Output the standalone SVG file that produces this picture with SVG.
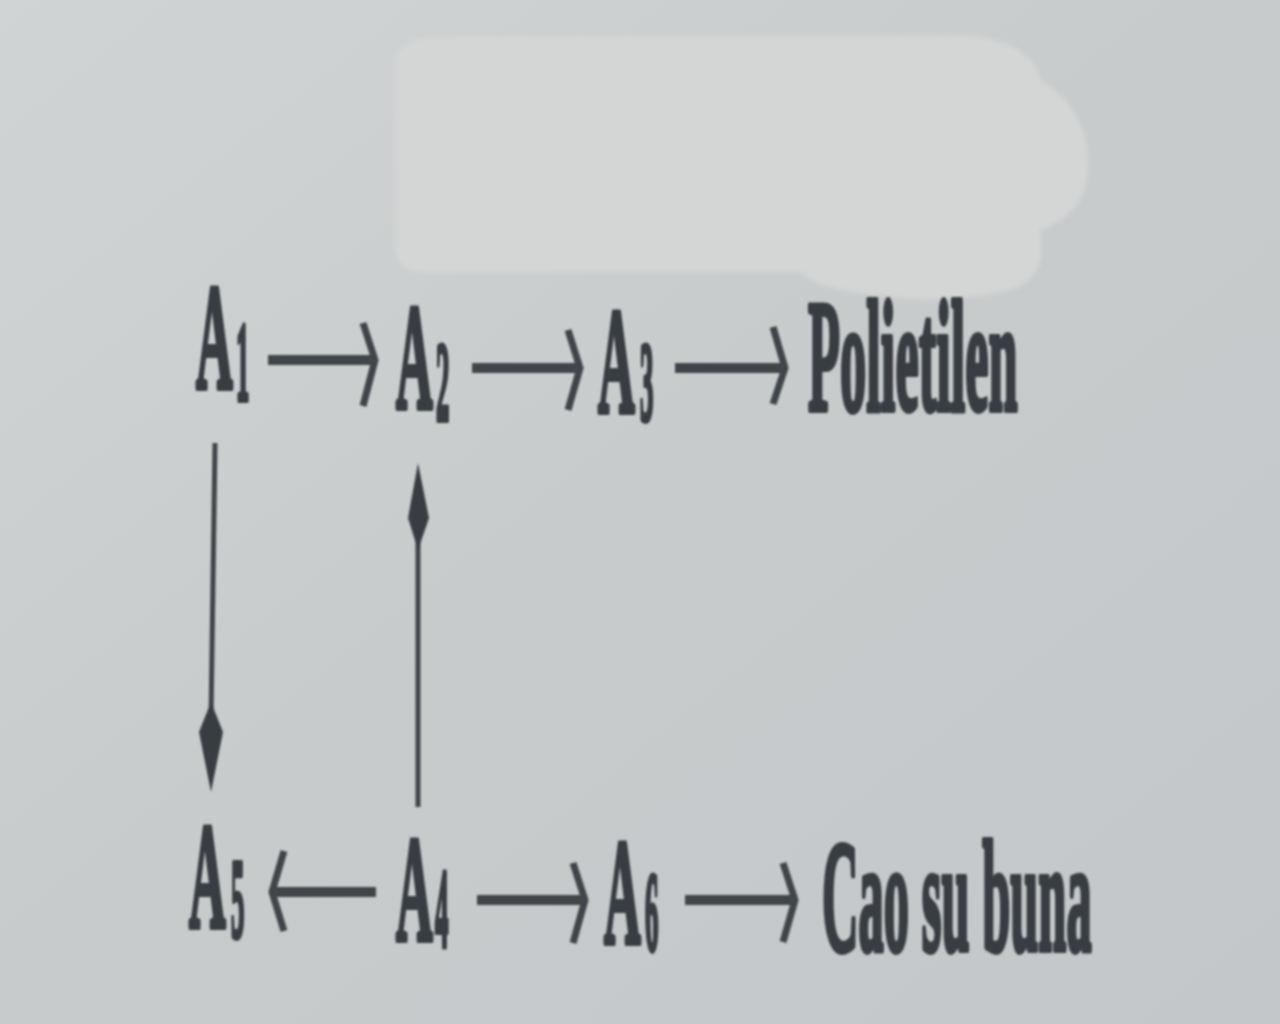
<svg xmlns="http://www.w3.org/2000/svg" width="1280" height="1024" viewBox="0 0 1280 1024">
  <defs>
    <linearGradient id="bg" x1="0" y1="0" x2="1" y2="1">
      <stop offset="0" stop-color="#d1d4d5"/>
      <stop offset="0.5" stop-color="#c8cbcc"/>
      <stop offset="1" stop-color="#c3c7c9"/>
    </linearGradient>
    <filter id="soft" x="-10%" y="-10%" width="120%" height="120%">
      <feGaussianBlur stdDeviation="1.3"/>
    </filter>
    <filter id="blobsoft">
      <feGaussianBlur stdDeviation="2"/>
    </filter>
    <style>
      .t { font-family: "Liberation Serif", "Times New Roman", serif; font-weight: bold; fill: #393c43; stroke: #393c43; stroke-width: 6; stroke-linejoin: round; }
      .big { font-size: 150px; }
      .sub { font-size: 112px; }
      .lbl { font-size: 158px; }
      .ln { stroke: #414449; fill: none; stroke-linecap: butt; }
      .h { stroke-width: 10; }
      .hd { stroke-width: 7; stroke-linejoin: miter; }
      .v { stroke-width: 5; }
      .fh { fill: #393c43; stroke: none; }
    </style>
  </defs>

  <rect x="0" y="0" width="1280" height="1024" fill="url(#bg)"/>

  <!-- light patch at top -->
  <g id="patch" fill="#d4d6d6" filter="url(#blobsoft)">
    <path d="M395 60 Q398 40 430 38 L960 36 Q1030 38 1040 80 Q1090 110 1088 170 Q1085 215 1040 230 Q1050 285 1000 292 Q940 305 880 295 Q820 290 800 272 L420 272 Q395 270 395 245 Z"/>
  </g>

  <g id="connectors" filter="url(#soft)">
    <!-- A1 -> A2 -->
    <line class="ln h" x1="268" y1="360" x2="371" y2="360"/>
    <polyline class="ln hd" points="363,323 375,360 363,406"/>
    <!-- A2 -> A3 -->
    <line class="ln h" x1="472" y1="368" x2="576" y2="368"/>
    <polyline class="ln hd" points="568,330 580,368 568,410"/>
    <!-- A3 -> Polietilen -->
    <line class="ln h" x1="675" y1="368" x2="781" y2="368"/>
    <polyline class="ln hd" points="773,327 785,368 773,404"/>
    <!-- A4 -> A5 -->
    <line class="ln h" x1="276" y1="892" x2="376" y2="892"/>
    <polyline class="ln hd" points="284,851 272,892 284,931"/>
    <!-- A4 -> A6 -->
    <line class="ln h" x1="477" y1="900" x2="581" y2="900"/>
    <polyline class="ln hd" points="573,863 585,900 573,943"/>
    <!-- A6 -> Cao su buna -->
    <line class="ln h" x1="685" y1="900" x2="791" y2="900"/>
    <polyline class="ln hd" points="783,863 795,900 783,942"/>
    <!-- A1 -> A5 (down) -->
    <line class="ln v" x1="215" y1="443" x2="211" y2="720"/>
    <polygon class="fh" points="211,702 223,732 211,792 199,732"/>
    <!-- A4 -> A2 (up) -->
    <line class="ln v" x1="418" y1="535" x2="418" y2="807"/>
    <polygon class="fh" points="418,463 429,518 418,550 408,518"/>
  </g>

  <g id="A1" filter="url(#soft)">
    <text class="t big" transform="translate(196,388) scale(0.34,1)">A</text>
    <text class="t sub" transform="translate(236,400) scale(0.24,1)">1</text>
  </g>
  <g id="A2" filter="url(#soft)">
    <text class="t big" transform="translate(396,408) scale(0.34,1)">A</text>
    <text class="t sub" transform="translate(436,420) scale(0.24,1)">2</text>
  </g>
  <g id="A3" filter="url(#soft)">
    <text class="t big" transform="translate(598,412) scale(0.34,1)">A</text>
    <text class="t sub" transform="translate(640,420) scale(0.24,1)">3</text>
  </g>
  <g id="Polietilen" filter="url(#soft)">
    <text class="t lbl" transform="translate(808,410) scale(0.332,1)">Polietilen</text>
  </g>
  <g id="A5" filter="url(#soft)">
    <text class="t big" transform="translate(189,927) scale(0.34,1)">A</text>
    <text class="t sub" transform="translate(231,937) scale(0.24,1)">5</text>
  </g>
  <g id="A4" filter="url(#soft)">
    <text class="t big" transform="translate(396,940) scale(0.34,1)">A</text>
    <text class="t sub" transform="translate(435,947) scale(0.24,1)">4</text>
  </g>
  <g id="A6" filter="url(#soft)">
    <text class="t big" transform="translate(604,943) scale(0.34,1)">A</text>
    <text class="t sub" transform="translate(645,950) scale(0.24,1)">6</text>
  </g>
  <g id="CaoSuBuna" filter="url(#soft)">
    <text class="t lbl" transform="translate(822,950) scale(0.32,1)">Cao su buna</text>
  </g>
</svg>
